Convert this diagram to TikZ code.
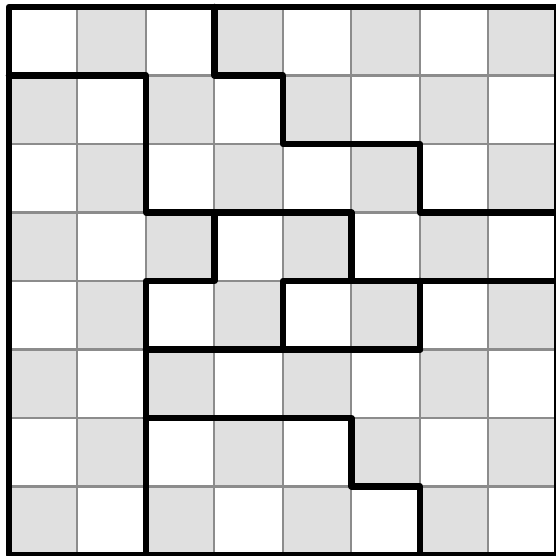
\documentclass[tikz,border=0pt]{standalone}
\begin{document}
\begin{tikzpicture}[yscale=-1, line join=round, line cap=round,
		cellgray/.style={fill=black!12},
		gridline/.style={draw=black!45, line width=0.85pt},
		wall/.style={draw=black, line width=2.7pt}]
	\useasboundingbox (-0.131,-0.102) rectangle (7.985,8.015);
	% --- Checkerboard cells ---
	\foreach \i in {0,...,7}
	\foreach \j in {0,...,7}{
		\pgfmathtruncatemacro\s{mod(\i+\j,2)}
		\ifnum\s=1 \fill[cellgray] (\i,\j) rectangle ++(1,1); \fi
	}
	
	% --- Thin grid ---
	\draw[gridline] (0,0) grid (8,8);
	
	% --- Thick walls ---
	\draw[wall] (0,0) rectangle (8,8);
	\draw[wall] (0,1)--(2,1)--(2,3)--(5,3)--(5,4)--(8,4);
	\draw[wall] (3,0)--(3,1)--(4,1)--(4,2)--(6,2)--(6,3)--(8,3);
	\draw[wall] (3,3)--(3,4)--(2,4)--(2,8);
	\draw[wall] (4,5)--(4,4)--(5,4);
	\draw[wall] (6,4)--(6,5);
	\draw[wall] (2,5)--(6,5);
	\draw[wall] (2,6)--(5,6)--(5,7)--(6,7)--(6,8);
\end{tikzpicture}
\end{document}
